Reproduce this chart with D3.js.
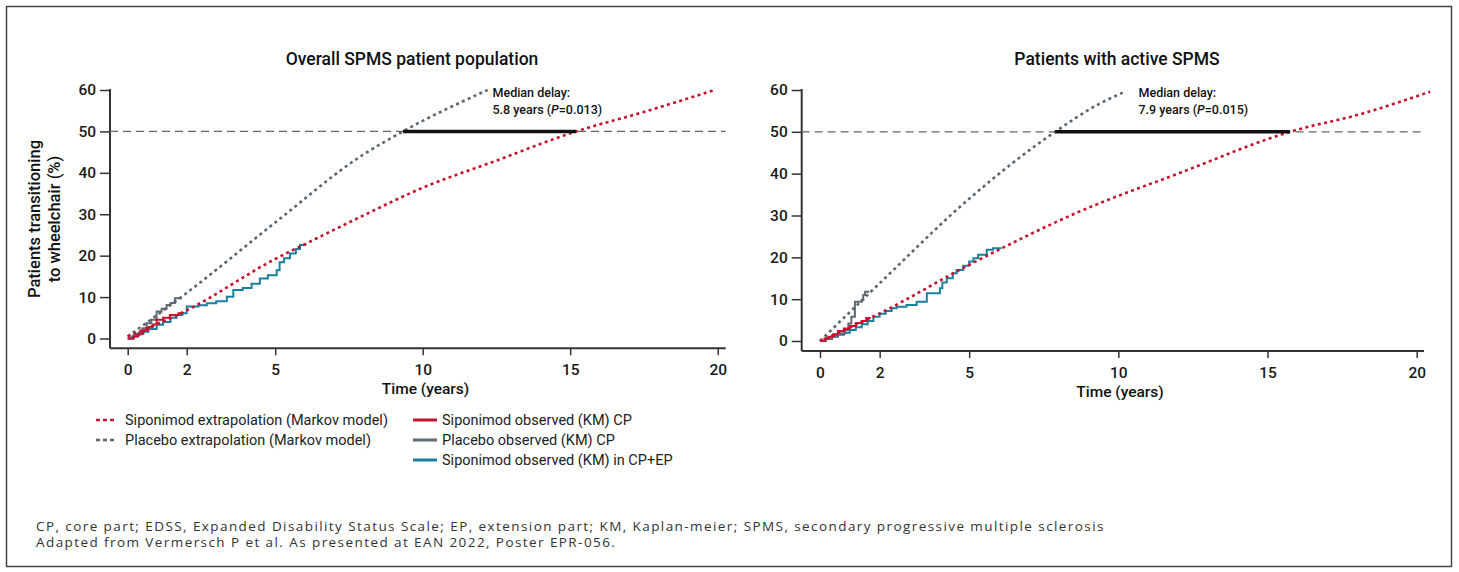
<!DOCTYPE html>
<html>
<head>
<meta charset="utf-8">
<script src="https://cdnjs.cloudflare.com/ajax/libs/d3/7.8.5/d3.min.js"></script>
<style>
  body { margin: 0; background: #fff; }
  svg { font-family: Roboto, "Noto Sans", sans-serif; }
  .tick text { font-family: Roboto, sans-serif; font-size: 15.5px; font-weight: 500; fill: #1a1a1a; }
  .tick line { stroke: #333; stroke-width: 1.5; }
</style>
</head>
<body>
<div id="chart"></div>
<script>
// x ticks shared by both panels
var xTicks = [0, 2, 5, 10, 15, 20];
var yTicks = [0, 10, 20, 30, 40, 50, 60];

// Overall SPMS population: [years, % transitioning]
var overallSipoModel = [[0,0.5],[2,6.8],[5,19.2],[6.3,23.8],[7.9,29.4],[10,36.4],[12.4,42.7],[15.2,50],[17.5,54.7],[19.9,60]];
var overallPlaModel = [[0,0.5],[2,11],[5,28],[7.9,44],[9.33,50],[12.2,60]];
var overallPlaKM = [[0,0],[0.2,0.8],[0.4,1.5],[0.5,2.5],[0.64,3.7],[0.8,4.5],[0.98,6.5],[1.15,7.2],[1.32,8.1],[1.45,8.6],[1.6,9.7],[1.8,9.9]];
var overallSipoKM = [[0,0],[0.2,0.5],[0.35,1.2],[0.53,2.0],[0.7,2.8],[0.85,3.4],[0.98,4.5],[1.2,5.0],[1.43,5.7],[1.72,6.1],[1.9,6.1]];
var overallSipoExtKM = [[0,0],[0.15,0.5],[0.3,1.0],[0.5,1.6],[0.7,2.3],[0.98,3.3],[1.2,4.0],[1.45,5.0],[1.66,5.7],[1.85,6.1],[2.0,7.7],[2.4,8.0],[2.68,8.5],[3.0,9.0],[3.36,10.1],[3.58,11.7],[3.9,12.2],[4.2,13.2],[4.48,14.5],[4.75,15.3],[5.05,16.5],[5.15,18.4],[5.3,19.4],[5.5,20.5],[5.7,21.6],[5.84,22.6],[6.05,22.6]];
var overallDelay = [9.33, 15.2];

// Active SPMS population
var activeSipoModel = [[0,0],[2,6.6],[5,18.2],[8.72,31],[12.07,40.2],[15.75,50],[18.2,54.4],[20.45,59.6]];
var activePlaModel = [[0,0],[2,13.8],[5,34],[7.88,50],[9.39,56.8],[10.16,59.4]];
var activePlaKM = [[0,0],[0.2,0.5],[0.4,1.2],[0.6,1.8],[0.84,2.6],[0.95,4.2],[1.05,5.8],[1.17,9.4],[1.4,9.8],[1.45,11],[1.51,11.8],[1.65,11.8]];
var activeSipoKM = [[0,0],[0.15,0.6],[0.3,1.0],[0.45,1.6],[0.6,2.4],[0.8,3.0],[1.0,3.6],[1.2,4.3],[1.4,4.8],[1.55,5.5],[1.7,5.5]];
var activeSipoExtKM = [[0,0],[0.2,0.5],[0.4,1.0],[0.6,1.5],[0.8,2.0],[1.0,2.6],[1.2,3.3],[1.4,4.0],[1.6,4.8],[1.79,5.8],[2.0,6.5],[2.2,7.2],[2.4,7.8],[2.57,8.2],[2.9,8.6],[3.24,9.4],[3.58,11.4],[4.02,12.6],[4.1,14.0],[4.25,15.0],[4.45,16.2],[4.58,17.0],[4.8,18.0],[5.0,19.0],[5.14,19.8],[5.3,20.6],[5.59,21.8],[5.8,22.2],[6.09,22.2]];
var activeDelay = [7.88, 15.75];

var legendModel = ["Siponimod extrapolation (Markov model)", "Placebo extrapolation (Markov model)"];
var legendKM = ["Siponimod observed (KM) CP", "Placebo observed (KM) CP", "Siponimod observed (KM) in CP+EP"];
var footnotes = [
  "CP, core part; EDSS, Expanded Disability Status Scale; EP, extension part; KM, Kaplan-meier; SPMS, secondary progressive multiple sclerosis",
  "Adapted from Vermersch P et al. As presented at EAN 2022, Poster EPR-056."
];

var RED = "#c4122f", GREY = "#5b6770", TEAL = "#1b7fa0", KMGREY = "#5f6a72";

var svg = d3.select("#chart").append("svg")
    .attr("width", 1459).attr("height", 572);

svg.append("rect")
    .attr("x", 6.5).attr("y", 6.5).attr("width", 1445).attr("height", 560)
    .attr("fill", "none").attr("stroke", "#444").attr("stroke-width", 1.5);

function drawPanel(o) {
    var x = d3.scaleLinear().domain([0, 20]).range(o.xr);
    var y = d3.scaleLinear().domain([0, 60]).range(o.yr);
    var g = svg.append("g");

    var yAxis = g.append("g")
        .attr("transform", "translate(" + o.axisX + ",0)")
        .call(d3.axisLeft(y).tickValues(yTicks).tickSize(10).tickPadding(4));
    yAxis.select(".domain").remove();
    var xAxis = g.append("g")
        .attr("transform", "translate(0," + o.axisY + ")")
        .call(d3.axisBottom(x).tickValues(xTicks).tickSize(7).tickPadding(9));
    xAxis.select(".domain").remove();

    g.append("line")
        .attr("x1", o.axisX).attr("x2", o.axisX)
        .attr("y1", y(60) - 1).attr("y2", o.axisY)
        .attr("stroke", "#333").attr("stroke-width", 2);
    g.append("line")
        .attr("x1", o.axisX).attr("x2", o.axisRight)
        .attr("y1", o.axisY).attr("y2", o.axisY)
        .attr("stroke", "#333").attr("stroke-width", 2);

    // 50% reference
    g.append("line")
        .attr("x1", o.axisX).attr("x2", o.axisRight)
        .attr("y1", y(50)).attr("y2", y(50))
        .attr("stroke", "#666").attr("stroke-width", 1.2)
        .attr("stroke-dasharray", "8,5");

    var smooth = d3.line().x(function(d) { return x(d[0]); })
        .y(function(d) { return y(d[1]); }).curve(d3.curveMonotoneX);
    var step = d3.line().x(function(d) { return x(d[0]); })
        .y(function(d) { return y(d[1]); }).curve(d3.curveStepAfter);

    g.append("path").attr("d", step(o.sipoExt)).attr("fill", "none")
        .attr("stroke", TEAL).attr("stroke-width", 2);
    g.append("path").attr("d", step(o.plaKM)).attr("fill", "none")
        .attr("stroke", KMGREY).attr("stroke-width", 2);
    g.append("path").attr("d", step(o.sipoKM)).attr("fill", "none")
        .attr("stroke", RED).attr("stroke-width", 2);

    g.append("path").attr("d", smooth(o.plaModel)).attr("fill", "none")
        .attr("stroke", GREY).attr("stroke-width", 2.6)
        .attr("stroke-dasharray", "3,3.4");
    g.append("path").attr("d", smooth(o.sipoModel)).attr("fill", "none")
        .attr("stroke", RED).attr("stroke-width", 2.6)
        .attr("stroke-dasharray", "3,3.4");

    g.append("line")
        .attr("x1", x(o.delay[0])).attr("x2", x(o.delay[1]))
        .attr("y1", y(50)).attr("y2", y(50))
        .attr("stroke", "#111").attr("stroke-width", 3.5);

    g.append("text").attr("x", o.titleX).attr("y", 65)
        .attr("text-anchor", "middle").attr("font-size", 17.5).attr("font-weight", 500)
        .attr("fill", "#111").text(o.title);
    g.append("text").attr("x", o.xTitleX).attr("y", o.xTitleY)
        .attr("text-anchor", "middle").attr("font-size", 15.5).attr("font-weight", 500)
        .attr("fill", "#111").text("Time (years)");

    var ann = g.append("text").attr("font-size", 12.5).attr("font-weight", 500).attr("fill", "#111");
    ann.append("tspan").attr("x", o.annX).attr("y", 97).text("Median delay:");
    var l2 = ann.append("tspan").attr("x", o.annX).attr("y", 113.5);
    l2.append("tspan").text(o.years + " years (");
    l2.append("tspan").attr("font-style", "italic").text("P");
    l2.append("tspan").text("=" + o.p + ")");
}

drawPanel({
    xr: [127.7, 717.7], yr: [338.5, 90], axisX: 110, axisY: 348.3, axisRight: 725.7,
    title: "Overall SPMS patient population", titleX: 412, xTitleX: 425.5, xTitleY: 394,
    sipoModel: overallSipoModel, plaModel: overallPlaModel, plaKM: overallPlaKM,
    sipoKM: overallSipoKM, sipoExt: overallSipoExtKM, delay: overallDelay,
    annX: 492.5, years: "5.8", p: "0.013"
});
drawPanel({
    xr: [820, 1416.7], yr: [341, 90], axisX: 801.7, axisY: 351, axisRight: 1424,
    title: "Patients with active SPMS", titleX: 1117, xTitleX: 1120, xTitleY: 397,
    sipoModel: activeSipoModel, plaModel: activePlaModel, plaKM: activePlaKM,
    sipoKM: activeSipoKM, sipoExt: activeSipoExtKM, delay: activeDelay,
    annX: 1138.5, years: "7.9", p: "0.015"
});

// y axis title (left panel only)
var yt = svg.append("text").attr("transform", "translate(40,219) rotate(-90)")
    .attr("text-anchor", "middle").attr("font-size", 16.5).attr("font-weight", 500).attr("fill", "#111");
yt.append("tspan").attr("x", 0).attr("y", 0).text("Patients transitioning");
yt.append("tspan").attr("x", 0).attr("y", 20).text("to wheelchair (%)");

// legend
var leg = svg.append("g").attr("font-size", 14.5).attr("fill", "#222");
legendModel.forEach(function(t, i) {
    var yy = 420 + i * 20;
    leg.append("line").attr("x1", 96).attr("x2", 117).attr("y1", yy).attr("y2", yy)
        .attr("stroke", i === 0 ? RED : GREY).attr("stroke-width", 2.6)
        .attr("stroke-dasharray", "4,3");
    leg.append("text").attr("x", 125).attr("y", yy).attr("dy", "0.35em").text(t);
});
var kmColors = [RED, KMGREY, TEAL];
legendKM.forEach(function(t, i) {
    var yy = 420 + i * 20;
    leg.append("line").attr("x1", 413).attr("x2", 437).attr("y1", yy).attr("y2", yy)
        .attr("stroke", kmColors[i]).attr("stroke-width", 3);
    leg.append("text").attr("x", 442).attr("y", yy).attr("dy", "0.35em").text(t);
});

// footnotes: wider face, spacing trimmed so line one ends near x=1105
var notes = footnotes.map(function(t, i) {
    return svg.append("text").attr("x", 36).attr("y", 531 + i * 16)
        .attr("font-family", "'Open Sans', sans-serif")
        .attr("font-size", 13.5).attr("fill", "#333").text(t);
});
var natural = notes[0].node().getComputedTextLength();
var spacing = (1069 - natural) / footnotes[0].length;
notes.forEach(function(n) { n.attr("letter-spacing", spacing.toFixed(2)); });
</script>
</body>
</html>
